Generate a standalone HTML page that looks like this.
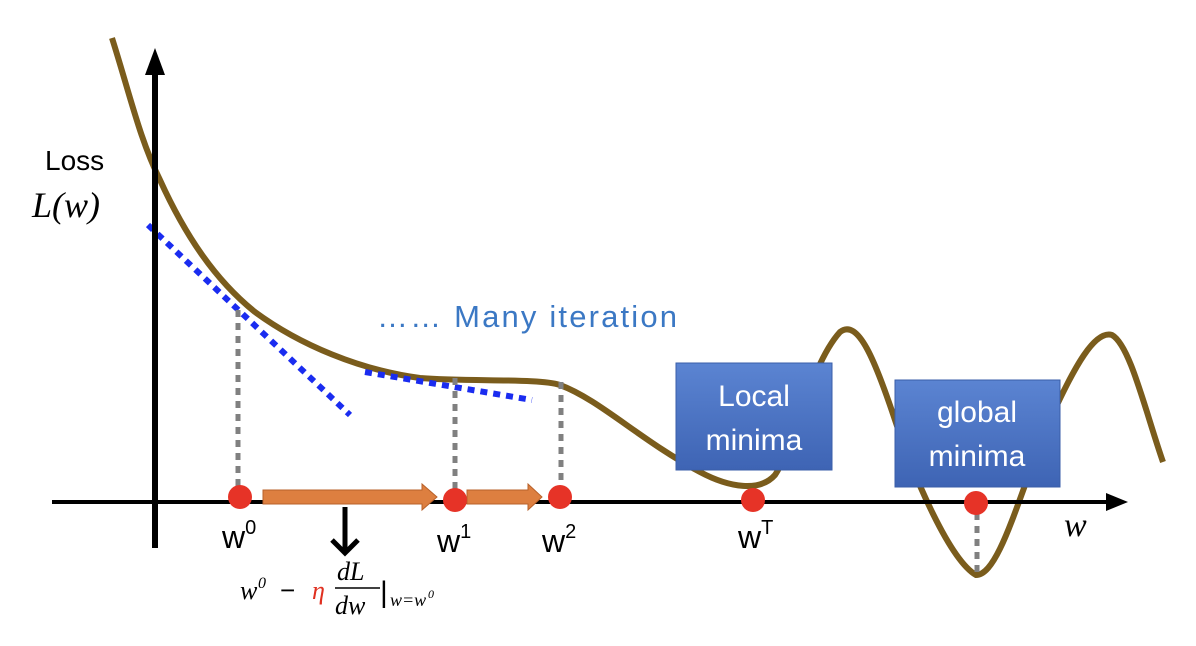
<!DOCTYPE html>
<html><head><meta charset="utf-8"><style>
body{margin:0;background:#fff;width:1196px;height:646px;overflow:hidden}
svg{display:block}
text{font-family:"Liberation Sans",sans-serif}
.s{font-family:"Liberation Serif",serif;font-style:italic}
</style></head><body>
<svg width="1196" height="646">
<defs>
<linearGradient id="bx" x1="0" y1="0" x2="0" y2="1"><stop offset="0" stop-color="#5b84d2"/><stop offset="1" stop-color="#3e64b4"/></linearGradient>
</defs>
<g>
<path d="M112,38 C130,95 140,140 160,180 C185,235 215,280 255,312 C300,345 360,370 420,378 C470,382 540,378 560,385 C600,400 640,440 700,472 C730,488 760,492 775,475 C795,445 810,365 840,332 C858,318 875,360 895,420 C915,480 950,560 976,575 C1000,575 1020,490 1050,420 C1075,365 1095,330 1112,335 C1130,345 1145,410 1163,462" fill="none" stroke="#7a5c1c" stroke-width="6"/>
</g>
<g stroke="#1a2cf0" stroke-width="6" stroke-dasharray="7,6">
<line x1="148" y1="225" x2="350" y2="415"/>
<line x1="365" y1="372" x2="532" y2="400"/>
</g>
<g stroke="#808080" stroke-width="5" stroke-dasharray="7,6">
<line x1="238" y1="310" x2="238" y2="490"/>
<line x1="455" y1="378" x2="455" y2="490"/>
<line x1="561" y1="382" x2="561" y2="490"/>
<line x1="977" y1="500" x2="977" y2="572"/>
</g>
<g>
<line x1="155" y1="548" x2="155" y2="70" stroke="#000" stroke-width="6"/>
<polygon points="155,48 145,75 165,75" fill="#000"/>
<line x1="52" y1="502" x2="1110" y2="502" stroke="#000" stroke-width="4"/>
<polygon points="1128,502 1106,493 1106,511" fill="#000"/>
</g>
<g fill="#dd7f40" stroke="#b8612a" stroke-width="1">
<polygon points="263,490 422,490 422,484 437,497 422,510 422,504 263,504"/>
<polygon points="467,490 528,490 528,484 542,497 528,510 528,504 467,504"/>
</g>
<g fill="#e63327">
<circle cx="240" cy="497" r="12"/><circle cx="455" cy="500" r="12"/><circle cx="560" cy="497" r="12"/><circle cx="753" cy="500" r="12"/><circle cx="976" cy="503" r="12"/>
</g>
<rect x="676" y="363" width="156" height="107" fill="url(#bx)" stroke="#3a5ea8"/>
<text x="754" y="406" text-anchor="middle" font-size="30" fill="#fff">Local</text>
<text x="754" y="450" text-anchor="middle" font-size="30" fill="#fff">minima</text>
<rect x="895" y="380" width="165" height="107" fill="url(#bx)" stroke="#3a5ea8"/>
<text x="977" y="422" text-anchor="middle" font-size="30" fill="#fff">global</text>
<text x="977" y="466" text-anchor="middle" font-size="30" fill="#fff">minima</text>
<text x="377" y="327" font-size="31" fill="#3b78c4" textLength="300" lengthAdjust="spacing">…… Many iteration</text>
<text x="45" y="170" font-size="28">Loss</text>
<text x="32" y="217" font-size="36" class="s">L(w)</text>
<g font-size="32">
<text x="222" y="548">w<tspan font-size="20" dy="-14">0</tspan></text>
<text x="437" y="552">w<tspan font-size="20" dy="-14">1</tspan></text>
<text x="542" y="552">w<tspan font-size="20" dy="-14">2</tspan></text>
<text x="738" y="548">w<tspan font-size="20" dy="-14">T</tspan></text>
</g>
<text x="1064" y="536" font-size="34" class="s">w</text>
<g stroke="#000" stroke-width="5" fill="none">
<line x1="345" y1="507" x2="345" y2="552"/><polyline points="332,540 345,553 358,540"/>
</g>
<g font-size="26">
<text x="240" y="599" class="s">w</text>
<text x="258" y="588" class="s" font-size="16">0</text>
<text x="280" y="599" font-family="Liberation Serif">−</text>
<text x="312" y="599" class="s" fill="#e03020">η</text>
<text x="337" y="580" class="s">dL</text>
<line x1="335" y1="588" x2="380" y2="588" stroke="#000" stroke-width="1.5"/>
<text x="335" y="614" class="s">dw</text>
<text x="380" y="602" font-size="30" font-family="Liberation Serif">|</text>
<text x="390" y="606" class="s" font-size="18">w=w</text>
<text x="428" y="598" class="s" font-size="12">0</text>
</g>
</svg>
</body></html>
